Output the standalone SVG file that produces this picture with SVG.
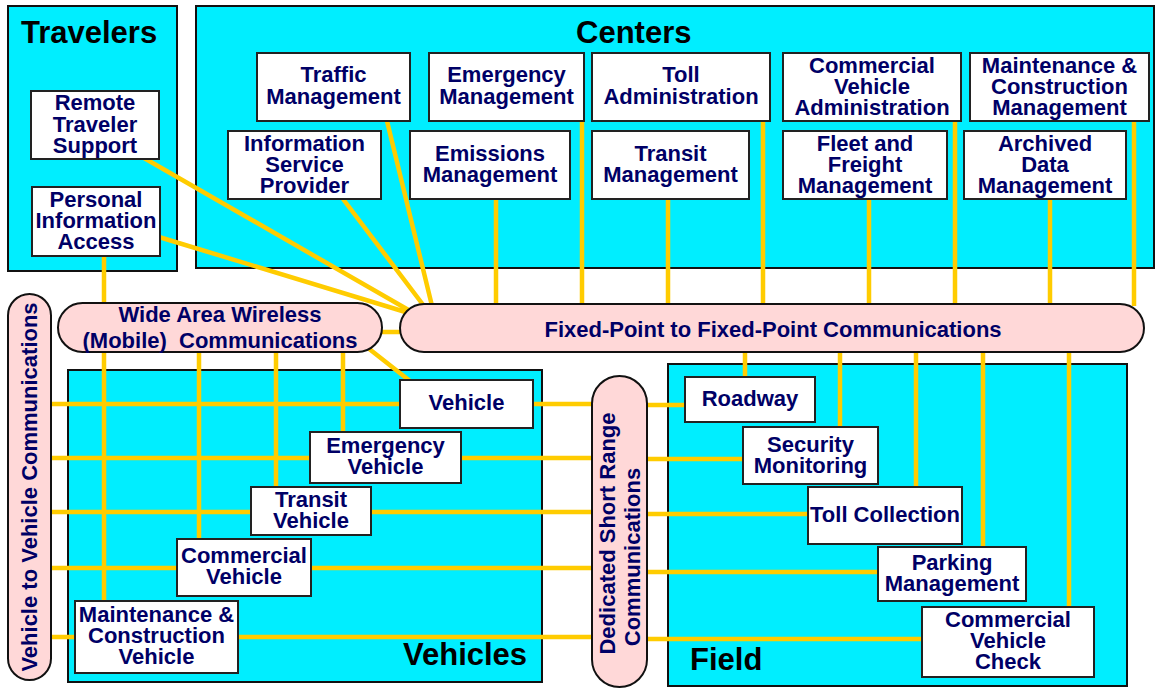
<svg xmlns="http://www.w3.org/2000/svg" width="1156" height="688" viewBox="0 0 1156 688">
<style>
.area{fill:#00EEFF;stroke:#111;stroke-width:2}
.box{fill:#fff;stroke:#222;stroke-width:2}
.pill{fill:#FFD8D8;stroke:#111;stroke-width:2}
.t{font-family:"Liberation Sans",Arial,sans-serif;font-weight:bold;font-size:22px;fill:#000066;text-anchor:middle}
.h{font-family:"Liberation Sans",Arial,sans-serif;font-weight:bold;font-size:31px;fill:#000}
.c{stroke:#FFCC00;stroke-width:4.5;fill:none}
</style>
<rect width="1156" height="688" fill="#fff"/>
<g id="travelers"><rect class="area" x="8" y="6" width="169" height="265"/><text class="h" x="21" y="43">Travelers</text></g>
<g id="centers"><rect class="area" x="196" y="6" width="958" height="262"/><text class="h" x="576" y="43">Centers</text></g>
<g id="vehicles"><rect class="area" x="68" y="370" width="474" height="312"/><text class="h" x="403" y="665">Vehicles</text></g>
<g id="field"><rect class="area" x="668" y="364" width="459" height="322"/><text class="h" x="690" y="670">Field</text></g>
<g id="connectors">
<path class="c" d="M144 158L412 312M159 237L412 314M343 199L427 310M387 121L433 310"/>
<path class="c" d="M380 332H402M368 348L410 381"/>
<path class="c" d="M104 256V601M199 352V539M276 352V487M343 352V432"/>
<path class="c" d="M496 199V306M582 121V306M668 199V306M763 121V306M869 199V306M955 121V306M1050 199V306M1134 121V306"/>
<path class="c" d="M745 350V377M840 350V427M916 350V487M983 350V547M1069 350V607"/>
<path class="c" d="M51 404H594M51 458H594M51 512H594M51 568H594M51 637H594"/>
<path class="c" d="M645 405H686M645 459H744M645 514H809M645 572H879M645 639H923"/>
</g>
<g id="wide-area-wireless"><rect class="pill" x="58" y="303" width="324" height="49" rx="24.5"/><text class="t" xml:space="preserve"><tspan x="220" y="322">Wide Area Wireless</tspan><tspan x="220" y="348">(Mobile)  Communications</tspan></text></g>
<g id="fixed-point"><rect class="pill" x="400" y="304" width="744" height="48" rx="24"/><text class="t" x="773" y="337">Fixed-Point to Fixed-Point Communications</text></g>
<g id="v2v"><rect class="pill" x="8" y="294" width="43" height="386" rx="21.5"/><text class="t" transform="translate(37,487) rotate(-90)">Vehicle to Vehicle Communications</text></g>
<g id="dsrc"><rect class="pill" x="592" y="376" width="55" height="311" rx="27.5"/><text class="t" transform="rotate(-90)"><tspan x="-533.5" y="615">Dedicated Short Range</tspan><tspan x="-557" y="640">Communications</tspan></text></g>
<g id="remote-traveler-support"><rect class="box" x="31" y="91" width="128" height="68"/><text class="t"><tspan x="95" y="110">Remote</tspan><tspan x="95" y="132">Traveler</tspan><tspan x="95" y="153">Support</tspan></text></g>
<g id="personal-information-access"><rect class="box" x="32" y="187" width="128" height="69"/><text class="t"><tspan x="96" y="207">Personal</tspan><tspan x="96" y="228">Information</tspan><tspan x="96" y="249">Access</tspan></text></g>
<g id="traffic-management"><rect class="box" x="257" y="53" width="153" height="68"/><text class="t"><tspan x="333.5" y="82">Traffic</tspan><tspan x="333.5" y="104">Management</tspan></text></g>
<g id="information-service-provider"><rect class="box" x="228" y="131" width="153" height="68"/><text class="t"><tspan x="304.5" y="151">Information</tspan><tspan x="304.5" y="172">Service</tspan><tspan x="304.5" y="193">Provider</tspan></text></g>
<g id="emergency-management"><rect class="box" x="429" y="53" width="155" height="68"/><text class="t"><tspan x="506.5" y="82">Emergency</tspan><tspan x="506.5" y="104">Management</tspan></text></g>
<g id="emissions-management"><rect class="box" x="410" y="131" width="160" height="68"/><text class="t"><tspan x="490" y="161">Emissions</tspan><tspan x="490" y="182">Management</tspan></text></g>
<g id="toll-administration"><rect class="box" x="592" y="53" width="178" height="68"/><text class="t"><tspan x="681" y="82">Toll</tspan><tspan x="681" y="104">Administration</tspan></text></g>
<g id="transit-management"><rect class="box" x="592" y="131" width="157" height="68"/><text class="t"><tspan x="670.5" y="161">Transit</tspan><tspan x="670.5" y="182">Management</tspan></text></g>
<g id="commercial-vehicle-administration"><rect class="box" x="783" y="53" width="178" height="68"/><text class="t"><tspan x="872" y="73">Commercial</tspan><tspan x="872" y="94">Vehicle</tspan><tspan x="872" y="115">Administration</tspan></text></g>
<g id="maintenance-construction-management"><rect class="box" x="970" y="53" width="179" height="68"/><text class="t"><tspan x="1059.5" y="73">Maintenance &amp;</tspan><tspan x="1059.5" y="94">Construction</tspan><tspan x="1059.5" y="115">Management</tspan></text></g>
<g id="fleet-freight-management"><rect class="box" x="783" y="131" width="164" height="68"/><text class="t"><tspan x="865" y="151">Fleet and</tspan><tspan x="865" y="172">Freight</tspan><tspan x="865" y="193">Management</tspan></text></g>
<g id="archived-data-management"><rect class="box" x="964" y="131" width="162" height="68"/><text class="t"><tspan x="1045" y="151">Archived</tspan><tspan x="1045" y="172">Data</tspan><tspan x="1045" y="193">Management</tspan></text></g>
<g id="vehicle"><rect class="box" x="400" y="380" width="133" height="48"/><text class="t" x="466.5" y="410">Vehicle</text></g>
<g id="emergency-vehicle"><rect class="box" x="310" y="432" width="151" height="51"/><text class="t"><tspan x="385.5" y="453">Emergency</tspan><tspan x="385.5" y="474">Vehicle</tspan></text></g>
<g id="transit-vehicle"><rect class="box" x="251" y="487" width="120" height="48"/><text class="t"><tspan x="311" y="507">Transit</tspan><tspan x="311" y="528">Vehicle</tspan></text></g>
<g id="commercial-vehicle"><rect class="box" x="177" y="539" width="134" height="57"/><text class="t"><tspan x="244" y="563">Commercial</tspan><tspan x="244" y="584">Vehicle</tspan></text></g>
<g id="maintenance-construction-vehicle"><rect class="box" x="75" y="601" width="163" height="72"/><text class="t"><tspan x="156.5" y="622">Maintenance &amp;</tspan><tspan x="156.5" y="643">Construction</tspan><tspan x="156.5" y="664">Vehicle</tspan></text></g>
<g id="roadway"><rect class="box" x="685" y="377" width="130" height="45"/><text class="t" x="750" y="406">Roadway</text></g>
<g id="security-monitoring"><rect class="box" x="743" y="427" width="135" height="57"/><text class="t"><tspan x="810.5" y="452">Security</tspan><tspan x="810.5" y="473">Monitoring</tspan></text></g>
<g id="toll-collection"><rect class="box" x="808" y="487" width="154" height="57"/><text class="t" x="885" y="522">Toll Collection</text></g>
<g id="parking-management"><rect class="box" x="878" y="547" width="148" height="54"/><text class="t"><tspan x="952" y="570">Parking</tspan><tspan x="952" y="591">Management</tspan></text></g>
<g id="commercial-vehicle-check"><rect class="box" x="922" y="607" width="172" height="70"/><text class="t"><tspan x="1008" y="627">Commercial</tspan><tspan x="1008" y="648">Vehicle</tspan><tspan x="1008" y="669">Check</tspan></text></g>
</svg>
